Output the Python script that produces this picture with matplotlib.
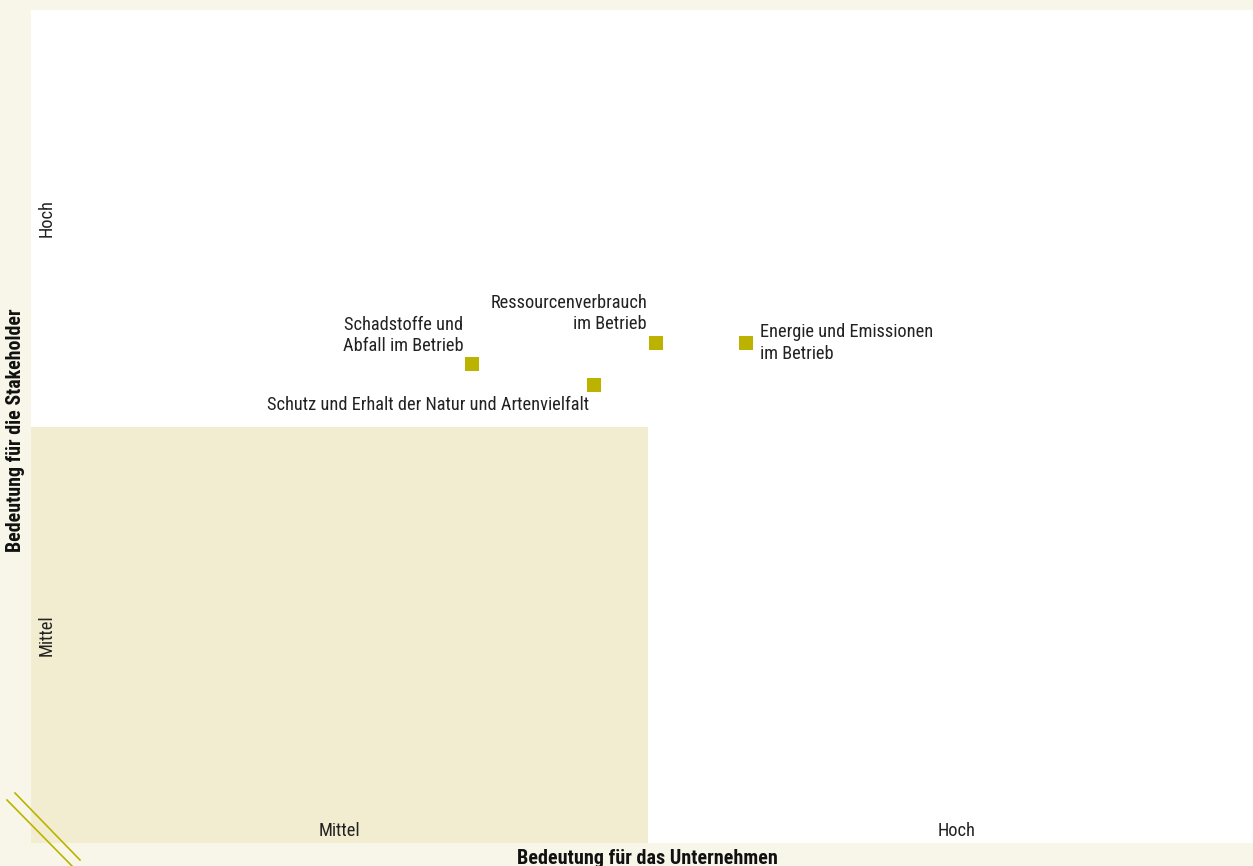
import matplotlib
matplotlib.use("Agg")
import matplotlib.pyplot as plt
from matplotlib.lines import Line2D
from matplotlib.patches import Rectangle

plt.rcParams['font.family'] = ['Roboto Condensed', 'DejaVu Sans']

# data (0..1 = Mittel, 1..2 = Hoch)
themen = ["Schadstoffe und\nAbfall im Betrieb",
          "Schutz und Erhalt der Natur und Artenvielfalt",
          "Ressourcenverbrauch\nim Betrieb",
          "Energie und Emissionen\nim Betrieb"]
unternehmen = [0.715, 0.912, 1.013, 1.159]
stakeholder = [1.15, 1.10, 1.20, 1.20]
# label placement (pixel offsets, alignment)
offsets = [(-9, 9, 'right', 'bottom'), (-5, -20, 'right', 'center'),
           (-9, 10, 'right', 'bottom'), (14, 0, 'left', 'center')]
stufen = ["Mittel", "Hoch"]

bg = '#f8f6e8'
shade = '#f2edd0'
olive = '#bcb300'
fs = 13.2

fig = plt.figure(figsize=(12.53, 8.66), dpi=100, facecolor=bg)
ax = fig.add_axes([31/1253, 23/866, 1234/1253, 833/866])
ax.set_facecolor('white')
ax.set_xlim(0, 2)
ax.set_ylim(0, 2)
for s in ax.spines.values():
    s.set_visible(False)
ax.set_xticks([])
ax.set_yticks([])

ax.add_patch(Rectangle((0, 0), 1, 1, facecolor=shade, edgecolor='none', zorder=0))

ax.scatter(unternehmen, stakeholder, marker='s', s=100, color=olive, zorder=3, linewidths=0)
for x, y, t, (dx, dy, ha, va) in zip(unternehmen, stakeholder, themen, offsets):
    ax.annotate(t, (x, y), xytext=(dx, dy), textcoords='offset pixels',
                ha=ha, va=va, fontsize=fs, color='#222222', linespacing=1.25)

for i, s in enumerate(stufen):
    ax.text(i + 0.5, 0.03, s, ha='center', va='center', fontsize=fs, color='#222222')
    ax.text(0.025, i + 0.5, s, ha='center', va='center', rotation=90, fontsize=fs, color='#222222')

fig.text(647/1253, 1 - 858/866, "Bedeutung für das Unternehmen", ha='center', va='center',
         fontsize=14.5, fontweight='bold', color='#111111')
fig.text(16/1253, 1 - 430/866, "Bedeutung für die Stakeholder", ha='center', va='center',
         rotation=90, fontsize=14.3, fontweight='bold', color='#111111')

# decorative double slash in the corner
for (x0, y0, x1, y1) in [(7, 800, 72, 866), (15, 793, 80, 860)]:
    fig.add_artist(Line2D([x0/1253, x1/1253], [1 - y0/866, 1 - y1/866],
                          color=olive, lw=1.2, transform=fig.transFigure))

fig.savefig("out.png", dpi=100, facecolor=bg)
